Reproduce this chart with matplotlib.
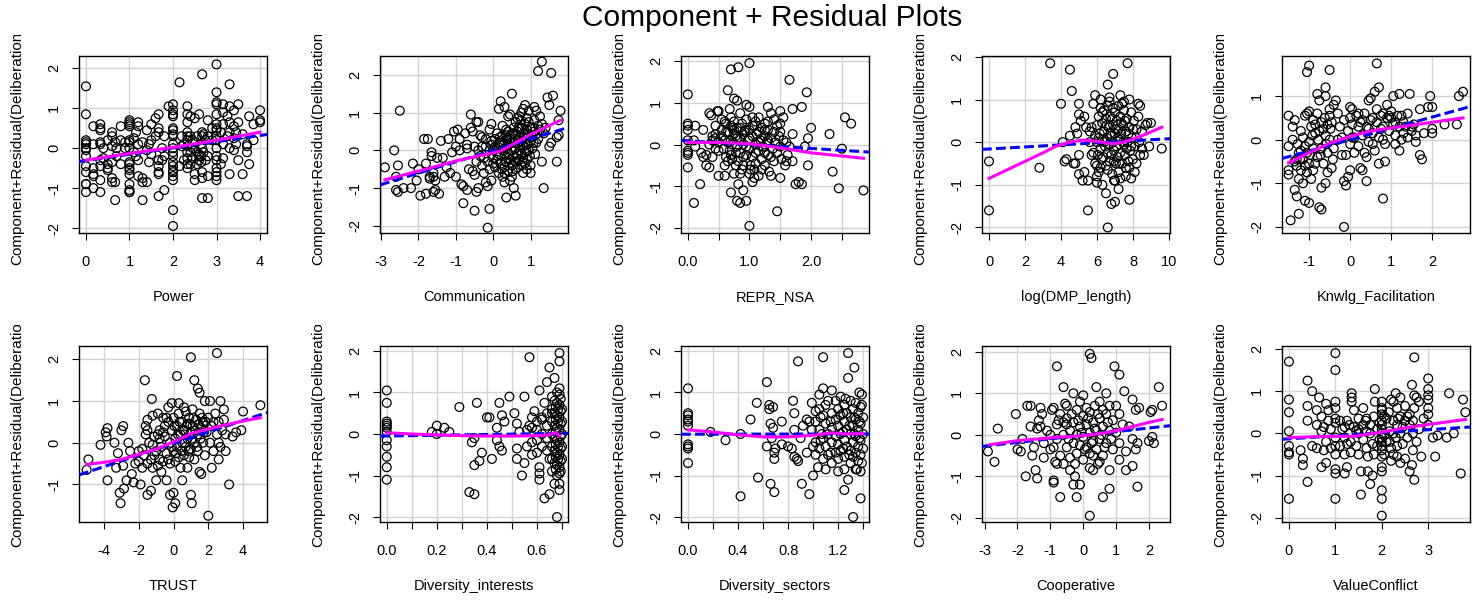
import matplotlib
matplotlib.use("Agg")
import matplotlib.pyplot as plt
from matplotlib.patches import Rectangle
import numpy as np

plt.rcParams['font.family'] = ['Liberation Sans', 'DejaVu Sans']

# ---------------- data ----------------
# columns: (x, [y, y, ...]) ; points: (x, y)

power_cols = [
    (0.0, [1.55, 0.85, 0.2, 0.15, 0.1, 0.0, -0.05, -0.2, -0.45, -0.6, -0.9, -0.9, -1.1]),
    (0.17, [0.55, 0.1, -0.5, -0.65, -0.7, -1.0]),
    (0.33, [0.6, 0.5, 0.45, 0.15, 0.1, -0.3, -0.45, -0.8, -1.1]),
    (0.4, [0.0, -0.25]),
    (0.5, [0.2, -0.4, -0.5, -0.55]),
    (0.6, [0.4, 0.3, 0.05, -0.35, -0.75, -0.85]),
    (0.67, [0.15, -0.85, -1.3]),
    (0.7, [-0.2, 0.0]),
    (0.8, [0.55, 0.2, -0.4]),
    (0.9, [0.15, 0.0]),
    (1.0, [0.7, 0.65, 0.6, 0.55, 0.2, 0.15, 0.0, -0.35, -0.4, -0.5, -0.55, -0.65, -0.9, -1.05, -1.1, -1.1]),
    (1.1, [0.25, -0.1]),
    (1.15, [0.4, -0.2]),
    (1.2, [0.65, 0.55, 0.1, -0.3, -0.7]),
    (1.3, [0.15, -0.75, -0.85, -1.3]),
    (1.4, [0.45, -0.05, -0.85]),
    (1.45, [0.1, -0.35]),
    (1.5, [0.6, 0.2, -0.15]),
    (1.6, [0.75, 0.3]),
    (1.67, [0.85, 0.5, 0.4, -0.3, -0.45, -0.6, -0.65, -1.2]),
    (1.75, [0.0, -0.3]),
    (1.8, [0.3, -0.2, -1.05]),
    (1.9, [1.05]),
    (2.0, [1.1, 0.95, 0.85, 0.8, 0.5, 0.45, 0.35, 0.3, 0.1, 0.0, -0.1, -0.2, -0.35, -0.45,
           -0.55, -0.6, -0.7, -0.8, -1.55, -1.95]),
    (2.15, [1.65, -0.45]),
    (2.2, [0.3, 0.05]),
    (2.25, [-0.3, 0.1]),
    (2.33, [1.05, 0.85, 0.65, 0.4, 0.3, 0.2, 0.05, -0.1, -0.25, -0.4, -0.5]),
    (2.4, [0.8, 0.3, -0.1, -0.4]),
    (2.45, [0.0, -0.25, 0.2]),
    (2.5, [0.75, 0.15, -0.65, -0.8]),
    (2.55, [-0.1, 0.3, -0.4]),
    (2.6, [0.85, -0.15, -0.2, -0.3]),
    (2.65, [-0.2, 0.1, -0.35]),
    (2.67, [1.85, 0.4, 0.3, 0.0, -0.6, -0.75, -1.25]),
    (2.7, [0.35, -0.1]),
    (2.75, [0.2, -0.3]),
    (2.8, [0.7, 0.3, -0.2, -0.7, -1.25]),
    (2.9, [0.5, 0.2]),
    (3.0, [2.1, 1.4, 1.15, 1.1, 0.85, 0.6, 0.5, 0.45, 0.3, 0.2, 0.0, -0.2, -0.3, -0.5, -0.6, -0.7, -0.8]),
    (3.1, [0.4, -0.4]),
    (3.15, [1.1, 0.9, 0.6, 0.1, -0.25]),
    (3.25, [0.3, 0.8]),
    (3.3, [1.6, 1.05, 0.65, 0.4, 0.0, -0.65]),
    (3.4, [0.95, 0.55, 0.25, -0.05]),
    (3.45, [0.4, 0.1]),
    (3.5, [1.1, 0.65, -0.3, -1.2]),
    (3.6, [0.35, -0.65]),
    (3.7, [0.1, 0.05, -0.1, -1.2]),
    (3.75, [0.8, -0.4]),
    (3.85, [0.6, 0.2]),
    (4.0, [0.95, 0.7, 0.65]),
]
power_pts = []

comm_cols = []
comm_pts = [
    (-2.9, -0.45), (-2.65, 0.0), (-2.5, 1.05), (-2.55, -0.4), (-2.6, -0.7), (-2.6, -1.05), (-2.55, -1.1),
    (-2.4, -1.0), (-2.2, -1.0), (-2.15, -0.35), (-2.05, -0.8), (-2.0, -0.5), (-1.95, -1.2), (-1.85, 0.3),
    (-1.8, -0.35), (-1.8, -1.15), (-1.75, 0.3), (-1.7, -0.7), (-1.7, -0.75), (-1.65, -0.05), (-1.65, -0.15),
    (-1.6, -0.6), (-1.6, -0.7), (-1.6, -1.1), (-1.55, -0.8), (-1.55, -1.05), (-1.5, -0.2), (-1.45, -1.15),
    (-1.4, 0.25), (-1.35, -0.2), (-1.3, -0.7), (-1.25, -0.45), (-1.2, 0.3), (-1.15, -0.6), (-1.1, -0.05),
    (-1.05, 0.5), (-1.0, 0.1), (-1.0, -0.7), (-0.95, 0.55), (-0.9, 0.3), (-0.9, 0.0), (-0.85, -0.9),
    (-0.8, -0.95), (-0.8, -1.4), (-0.75, 0.45), (-0.7, 0.05), (-0.7, 0.15), (-0.7, -1.05), (-0.65, -0.5),
    (-0.6, 0.95), (-0.6, 0.6), (-0.55, 0.5), (-0.55, -0.55), (-0.5, 0.1), (-0.5, -0.65), (-0.45, 0.75),
    (-0.45, -0.3), (-0.4, 0.75), (-0.4, -1.0), (-0.45, -1.1), (-0.4, 0.0), (-0.35, 0.4), (-0.35, -0.15),
    (-0.3, -0.4), (-0.3, 0.35), (-0.5, -1.6), (-0.25, -0.6), (-0.2, 0.1), (-0.2, -0.85), (-0.15, -0.95),
    (-0.15, -2.05), (-0.1, 0.55), (-0.1, -1.55), (-0.05, 0.7), (-0.05, -0.8), (-0.05, 0.25), (0.0, 0.0),
    (0.0, -0.35),
    (0.15, 1.1), (0.2, 1.3), (0.25, 0.65), (0.3, 1.15), (0.3, -0.85), (0.35, -1.25), (0.4, 0.9), (0.45, 0.95),
    (0.5, 1.5), (0.55, -1.0), (0.6, -1.2), (0.6, -0.5), (0.65, 0.85), (0.7, 0.6), (0.75, 1.0), (0.8, 1.1),
    (0.8, -0.6), (0.85, 1.2), (0.9, 0.85), (0.95, 1.05), (1.0, -0.6), (1.0, -0.4), (1.05, 0.6), (1.1, 1.15),
    (1.15, 1.05), (1.2, 2.1), (1.25, 0.9), (1.3, 2.35), (1.3, -0.3), (1.35, -1.0), (1.4, 0.6), (1.45, 1.4),
    (1.5, 1.2), (1.55, 2.05), (1.6, 1.45), (1.55, 0.2), (1.5, 0.1), (1.7, 0.35), (1.7, -0.3), (1.75, 0.4),
    (1.8, 1.05), (1.75, 0.8),
    (-0.3, 0.1), (-0.25, -0.2), (-0.2, 0.3), (-0.15, -0.3), (-0.1, 0.0), (-0.1, -0.5), (-0.05, 0.15),
    (0.0, -0.2), (0.05, 0.3), (0.05, -0.45), (0.1, 0.05), (0.1, -0.25), (0.1, 0.45), (0.15, -0.1),
    (0.15, -0.6), (0.2, 0.2), (0.2, -0.35), (0.25, 0.0), (0.25, 0.4), (0.25, -0.7), (0.3, 0.25),
    (0.3, -0.15), (0.3, -0.45), (0.35, 0.4), (0.35, 0.05), (0.35, -0.3), (0.4, 0.5), (0.4, 0.15),
    (0.4, -0.1), (0.4, -0.55), (0.45, 0.3), (0.45, -0.25), (0.45, -0.8), (0.5, 0.45), (0.5, 0.0),
    (0.5, -0.4), (0.55, 0.6), (0.55, 0.2), (0.55, -0.15), (0.6, 0.4), (0.6, 0.05), (0.6, -0.3), (0.6, 0.75),
    (0.65, 0.5), (0.65, 0.2), (0.65, -0.1), (0.65, -0.45), (0.7, 0.35), (0.7, 0.0), (0.7, -0.25), (0.7, 0.9),
    (0.75, 0.6), (0.75, 0.25), (0.75, -0.1), (0.75, -0.4), (0.8, 0.45), (0.8, 0.1), (0.8, -0.2), (0.85, 0.7),
    (0.85, 0.3), (0.85, -0.05), (0.85, -0.35), (0.9, 0.55), (0.9, 0.15), (0.9, -0.25), (0.95, 0.4),
    (0.95, 0.0), (0.95, 0.75), (1.0, 0.25), (1.0, 0.6), (1.05, 0.35), (1.05, 0.05), (1.1, 0.5), (1.1, 0.8),
    (1.15, 0.2), (1.2, 0.65), (1.2, 0.3), (1.25, 0.55), (1.3, 0.7), (1.35, 0.45),
    (0.05, 0.1), (0.12, -0.15), (0.18, 0.35), (0.22, -0.5), (0.28, 0.15), (0.32, -0.3), (0.38, 0.3),
    (0.42, -0.2), (0.48, 0.2), (0.52, -0.55), (0.58, 0.3), (0.62, -0.2), (0.68, 0.6), (0.72, 0.15),
    (0.78, -0.3), (0.82, 0.35), (0.88, 0.0), (0.92, 0.45), (0.98, -0.15), (1.02, 0.4), (1.08, 0.2),
    (1.12, -0.1), (1.18, 0.45), (0.15, 0.2), (0.35, 0.55), (0.55, 0.45), (0.75, 0.8), (0.9, -0.5),
    (0.5, -0.7), (0.3, -0.6),
]

repr_cols = [
    (0.0, [1.2, 0.5, 0.45, 0.35, 0.1, -0.15, -0.2, -0.25, -0.55]),
]
repr_pts = [
    (0.1, -1.4), (0.12, 0.45), (0.1, 0.1), (0.12, -0.05), (0.2, -0.95), (0.22, -0.2), (0.25, 0.35),
    (0.25, -0.3), (0.3, -0.25), (0.3, -0.5), (0.35, 0.75), (0.38, 0.7), (0.35, -0.55), (0.4, 0.1),
    (0.4, -0.3), (0.45, 0.45), (0.45, 0.25), (0.45, 0.15), (0.48, 0.8), (0.5, 0.8), (0.5, -0.75),
    (0.5, -0.15), (0.55, 0.6), (0.55, 0.2), (0.6, -0.75), (0.62, 0.5), (0.62, 0.3), (0.65, 1.3),
    (0.65, -0.4), (0.68, 0.85), (0.7, 1.8), (0.7, 0.1), (0.7, -1.15), (0.72, 0.4), (0.75, 1.1), (0.75, 0.25),
    (0.75, -0.7), (0.78, -0.2), (0.8, 1.05), (0.8, -1.35), (0.82, 1.85), (0.82, -0.95), (0.85, 0.75),
    (0.85, -1.4), (0.88, -0.6), (0.9, -1.1), (0.93, 0.35), (0.95, 0.95), (0.95, -1.35), (1.0, 1.95),
    (1.0, -1.95), (1.0, 0.9), (1.02, -0.5), (1.05, 0.65), (1.05, -0.9), (1.08, -0.8), (1.1, 0.55),
    (1.15, 0.3), (1.2, -0.6), (1.25, 0.5), (1.3, 0.9), (1.35, 0.75), (1.35, -0.75), (1.4, 0.6),
    (1.45, -1.6), (1.5, 0.8), (1.5, 0.3), (1.5, -0.8), (1.55, 0.65), (1.6, -0.4), (1.65, 1.55), (1.7, 0.85),
    (1.7, 0.25), (1.7, -0.4), (1.75, -0.95), (1.8, -0.9), (1.85, 0.9), (1.85, -0.95), (1.9, -0.05),
    (1.93, 1.25), (1.95, 0.15), (1.95, -0.5), (2.0, 0.4), (2.3, 0.25), (2.35, -0.65), (2.45, -1.05),
    (2.5, -0.1), (2.55, 0.65), (2.65, 0.5), (2.85, -1.1),
    (0.55, 0.35), (0.58, -0.1), (0.6, 0.1), (0.62, -0.3), (0.65, 0.3), (0.68, -0.15), (0.7, 0.45),
    (0.72, 0.0), (0.72, -0.35), (0.75, 0.55), (0.78, 0.2), (0.8, -0.05), (0.8, 0.4), (0.82, -0.4),
    (0.85, 0.15), (0.85, -0.2), (0.88, 0.5), (0.9, 0.0), (0.9, -0.5), (0.92, 0.3), (0.95, -0.25),
    (0.95, 0.6), (0.98, 0.1), (1.0, -0.1), (1.0, 0.35), (1.02, -0.6), (1.05, 0.2), (1.05, -0.3),
    (1.08, 0.45), (1.1, 0.0), (1.1, -0.45), (1.12, 0.25), (1.15, -0.15), (1.15, 0.65), (1.18, 0.1),
    (1.2, -0.35), (1.2, 0.4), (1.22, -0.05), (1.25, 0.2), (1.25, -0.5), (1.28, 0.05), (1.3, 0.35),
    (1.3, -0.25), (1.32, -0.65), (1.35, 0.15), (1.38, -0.1), (1.4, 0.3), (1.4, -0.4), (1.42, 0.05),
    (1.45, -0.2), (1.48, 0.2), (1.5, -0.05), (1.52, -0.35), (1.55, 0.1), (1.58, -0.5), (1.6, 0.05),
    (1.62, -0.25), (1.65, -0.05), (0.45, -0.1), (0.5, 0.05), (0.4, 0.2), (0.35, 0.0), (0.6, 0.55),
    (0.7, 0.65), (0.85, -0.7), (1.0, -0.7), (1.15, -0.75), (1.3, 0.55), (1.45, 0.45), (1.5, 0.5),
    (0.65, 0.05), (0.7, -0.25), (0.75, 0.35), (0.8, 0.15), (0.85, 0.4), (0.9, 0.25), (0.95, -0.05),
    (1.0, 0.15), (1.05, 0.45), (1.1, -0.2), (1.15, 0.05), (1.2, 0.15), (1.25, 0.35), (1.3, 0.1),
    (1.35, -0.3), (0.9, -0.3), (0.78, -0.5), (1.08, -0.6), (1.25, -0.2), (0.6, -0.5),
]

dmp_cols = [
    (0.0, [-0.45, -1.6]),
]
dmp_pts = [
    (2.8, -0.6), (3.4, 1.85), (4.0, 0.9), (4.1, 0.0), (4.2, -0.45), (4.3, -0.4), (4.5, 1.7), (4.6, 1.2),
    (4.5, 0.15), (4.7, -0.5), (4.8, -0.5), (4.8, 0.35), (4.9, 0.2), (5.0, 0.9), (5.0, 0.65), (5.0, -0.3),
    (5.0, -0.75), (5.1, 0.5), (5.2, -0.9), (5.3, -0.7), (5.3, 0.6), (5.4, 0.35), (5.5, -1.6), (5.5, -0.9),
    (5.6, 0.25), (5.7, -0.3), (5.8, 0.9), (5.9, 1.1), (6.0, -0.95), (6.0, -0.55), (6.1, -0.7), (6.2, 0.8),
    (6.3, -1.0), (6.5, -1.2), (6.6, -2.0), (6.6, 1.35), (6.7, 1.05), (6.8, -1.45), (6.9, 1.6), (7.0, -1.4),
    (7.2, -1.1), (7.3, 1.1), (7.5, 0.95), (7.7, 1.85), (7.8, 1.0), (7.8, -1.35), (7.9, -0.85), (8.1, -0.7),
    (8.3, 0.9), (8.4, 0.85), (8.5, -0.15), (8.6, -0.3), (8.7, 0.4), (8.8, 0.45), (8.9, -0.1), (9.0, 0.45),
    (9.6, -0.15),
    (5.6, 0.0), (5.7, 0.35), (5.8, -0.25), (5.9, 0.15), (5.9, -0.5), (6.0, 0.4), (6.0, 0.0), (6.05, -0.3),
    (6.1, 0.6), (6.15, 0.2), (6.2, -0.15), (6.2, -0.6), (6.3, 0.45), (6.3, 0.05), (6.35, -0.35), (6.4, 0.75),
    (6.4, 0.25), (6.45, -0.1), (6.5, -0.55), (6.5, 0.55), (6.55, 0.1), (6.6, -0.25), (6.6, 0.85), (6.65, 0.35),
    (6.7, -0.05), (6.7, -0.45), (6.75, 0.6), (6.8, 0.15), (6.8, -0.3), (6.85, -0.75), (6.9, 0.4), (6.9, 0.0),
    (6.95, -0.2), (7.0, 0.7), (7.0, 0.2), (7.05, -0.5), (7.1, 0.5), (7.1, -0.1), (7.15, -0.35), (7.2, 0.3),
    (7.2, -0.7), (7.25, 0.05), (7.3, 0.6), (7.3, -0.25), (7.35, 0.2), (7.4, -0.5), (7.45, 0.4), (7.5, -0.05),
    (7.5, 0.75), (7.55, -0.3), (7.6, 0.25), (7.6, -0.8), (7.65, 0.55), (7.7, 0.0), (7.75, -0.45), (7.8, 0.35),
    (7.85, -0.2), (7.9, 0.7), (7.95, 0.1), (8.0, -0.4), (8.05, 0.5), (8.1, -0.1), (8.2, 0.3), (8.2, -0.5),
    (8.3, 0.6), (8.35, 0.0), (8.4, -0.3), (8.5, 0.25), (6.0, -0.8), (6.2, 1.0), (6.9, 0.8), (7.4, 0.9),
    (7.0, -0.9), (7.6, -0.6),
    (6.1, 0.1), (6.25, -0.4), (6.4, 0.0), (6.55, 0.4), (6.6, -0.65), (6.75, 0.2), (6.85, 0.55), (6.95, -0.45),
    (7.05, 0.3), (7.15, 0.1), (7.25, -0.5), (7.35, 0.45), (7.45, 0.0), (7.55, 0.5), (7.65, -0.15),
    (7.75, 0.2), (7.9, -0.1), (8.0, 0.3), (6.3, 0.7), (6.95, -0.9), (7.3, -0.85), (7.8, -0.6), (6.7, 0.95),
    (7.2, 0.85),
]

knwlg_cols = []
knwlg_pts = [
    (-1.5, 0.55), (-1.5, -0.15), (-1.5, -0.7), (-1.5, -0.8), (-1.45, -1.85), (-1.4, 0.0), (-1.4, 0.3),
    (-1.35, 0.45), (-1.35, -1.15), (-1.3, -1.3), (-1.3, -0.45), (-1.25, -0.9), (-1.25, -1.7), (-1.2, 0.2),
    (-1.2, -0.25), (-1.15, -1.0), (-1.1, -1.4), (-1.1, 0.55), (-1.05, 1.55), (-1.05, 0.6), (-1.0, 1.7),
    (-1.0, -1.45), (-1.0, 0.65), (-0.95, -0.9), (-0.9, 0.45), (-0.85, 0.15), (-0.8, 1.05), (-0.8, 0.6),
    (-0.75, 0.9), (-0.7, -1.1), (-0.75, -1.55), (-0.7, -1.6), (-0.65, 0.25), (-0.6, 1.2), (-0.6, -1.0),
    (-0.6, 1.0), (-0.55, -0.75), (-0.5, 1.6), (-0.5, 0.55), (-0.45, -0.65), (-0.4, 0.8), (-0.35, 0.9),
    (-0.3, 0.0), (-0.2, -0.35), (-0.15, -0.95), (-0.15, -2.0), (-0.1, -1.05), (-0.05, -0.85), (0.0, 0.75),
    (0.0, 0.5), (0.0, -0.7), (0.05, 0.7), (0.1, -0.3), (0.2, 0.3), (0.25, -0.65), (0.3, -0.7), (0.35, 0.6),
    (0.4, -0.4), (0.4, -0.95), (0.45, 0.9), (0.5, 0.95), (0.55, 0.5), (0.6, 1.1), (0.65, 1.75), (0.7, 1.2),
    (0.7, -0.55), (0.8, 0.0), (0.8, 0.6), (0.85, -0.5), (0.8, -1.35), (0.9, 0.8), (1.0, 0.5), (1.05, 1.0),
    (1.1, -0.1), (1.2, 1.05), (1.2, -0.25), (1.3, 0.4), (1.4, 0.6), (1.45, 1.05), (1.5, 0.3), (1.6, -0.05),
    (1.7, 0.7), (1.7, -0.35), (1.75, -0.45), (1.8, 0.15), (1.9, 0.75), (1.95, 1.0), (2.0, 0.75),
    (2.0, 0.15), (2.0, 0.25), (2.3, 0.35), (2.6, 0.35), (2.65, 1.0), (2.75, 1.1),
    (-1.3, -0.6), (-1.25, -0.3), (-1.2, -0.7), (-1.15, -0.45), (-1.1, -0.15), (-1.1, -0.6), (-1.05, -0.3),
    (-1.0, -0.05), (-1.0, -0.55), (-0.95, 0.3), (-0.9, -0.2), (-0.9, -0.7), (-0.85, 0.35), (-0.8, -0.4),
    (-0.75, 0.2), (-0.7, -0.2), (-0.7, 0.4), (-0.65, -0.55), (-0.6, 0.1), (-0.55, 0.35), (-0.55, -0.3),
    (-0.5, 0.7), (-0.5, 0.0), (-0.45, 0.4), (-0.4, -0.2), (-0.3, 0.6), (-0.25, 0.3), (-0.2, 0.05),
    (-0.15, 0.45), (-0.1, -0.35), (-0.05, 0.2), (0.0, -0.1), (0.05, 0.35), (0.1, 0.05), (0.15, 0.55),
    (0.2, -0.15), (0.25, 0.4), (0.3, 0.1), (0.35, -0.3), (0.4, 0.3), (0.45, -0.05), (0.5, 0.45), (0.55, 0.15),
    (0.6, -0.25), (0.65, 0.4), (0.7, 0.05), (0.75, 0.55), (0.8, 0.3), (0.85, -0.1), (0.9, 0.5), (0.95, 0.2),
    (1.0, 0.65), (1.05, 0.35), (1.1, 0.1), (1.15, 0.55), (1.2, 0.3), (1.25, 0.0), (1.3, 0.15), (1.35, 0.3),
    (1.4, 0.05), (1.5, 0.2), (1.55, 0.35), (1.6, 0.1),
    (-1.35, -0.5), (-1.28, -0.1), (-1.22, -0.45), (-1.15, 0.05), (-1.05, -0.75), (-0.98, -0.35),
    (-0.92, 0.1), (-0.85, -0.55), (-0.78, 0.0), (-0.72, -0.35), (-0.62, 0.5), (-0.58, -0.1), (-0.48, 0.25),
    (-0.42, -0.45), (0.3, 0.45), (0.45, 0.25), (0.55, -0.1), (0.65, 0.7), (0.75, 0.25), (0.95, 0.55),
    (1.1, 0.4), (1.25, 0.55), (0.2, 0.6), (0.05, 0.05),
]

trust_cols = []
trust_pts = [
    (-4.9, -0.4), (-5.0, -0.65), (-4.2, -0.05), (-3.9, 0.25), (-3.8, 0.35), (-3.85, 0.15), (-3.8, -0.9),
    (-3.4, 0.0), (-3.3, -0.6), (-3.2, -0.25), (-3.1, -1.2), (-3.05, -1.45), (-3.0, 0.3), (-2.9, 0.4),
    (-2.9, -0.55), (-2.85, -1.1), (-2.7, -0.9), (-2.6, 0.0), (-2.5, -0.2), (-2.4, -0.75), (-2.3, -0.95),
    (-2.2, -0.5), (-2.0, -0.2), (-1.9, -1.0), (-1.8, -0.15), (-1.65, 1.5), (-1.6, 0.4), (-1.5, 0.55),
    (-1.5, -1.25), (-1.3, -1.15), (-1.25, 1.05), (-1.2, 0.65), (-1.1, -0.3), (-1.0, -0.9), (-0.9, 0.7),
    (-0.8, 0.1), (-0.7, -0.7), (-0.6, 0.6), (-0.5, 0.4), (-0.4, -0.9), (-0.3, 0.85), (-0.2, -1.25),
    (-0.1, 0.95), (-0.05, -1.55), (0.0, -1.2), (0.1, -1.45), (0.2, 1.6), (0.3, 0.95), (0.5, -0.9),
    (0.6, 0.85), (0.8, -0.6), (1.0, 2.05), (1.0, -1.25), (1.05, -1.45), (1.2, 1.5), (1.4, 1.3), (1.5, 1.2),
    (1.5, -0.7), (1.6, -0.75), (1.8, 1.0), (2.0, -1.75), (2.1, 1.0), (2.2, -0.6), (2.5, 2.15), (2.6, -0.4),
    (2.7, 1.0), (2.9, 0.8), (3.0, 0.2), (3.2, -1.0), (3.4, 0.15), (3.6, 0.25), (3.9, 0.3), (4.0, 0.75),
    (5.0, 0.9),
    (-2.0, -0.45), (-1.8, -0.6), (-1.7, -0.3), (-1.6, 0.2), (-1.5, -0.5), (-1.4, 0.0), (-1.3, -0.4),
    (-1.2, -0.6), (-1.1, 0.15), (-1.0, -0.2), (-0.9, -0.55), (-0.8, 0.3), (-0.7, -0.1), (-0.6, -0.45),
    (-0.5, 0.15), (-0.4, -0.25), (-0.3, 0.5), (-0.2, 0.0), (-0.2, -0.5), (-0.1, 0.3), (0.0, -0.2),
    (0.0, 0.6), (0.1, 0.1), (0.1, -0.45), (0.2, 0.4), (0.2, -0.1), (0.3, -0.35), (0.3, 0.7), (0.4, 0.2),
    (0.4, -0.6), (0.5, 0.5), (0.5, 0.0), (0.6, -0.3), (0.6, 0.3), (0.7, 0.75), (0.7, -0.1), (0.8, 0.45),
    (0.8, 0.1), (0.9, -0.35), (0.9, 0.6), (1.0, 0.25), (1.0, -0.15), (1.1, 0.8), (1.1, 0.4), (1.2, 0.0),
    (1.2, -0.4), (1.3, 0.55), (1.4, 0.2), (1.4, -0.2), (1.5, 0.7), (1.6, 0.35), (1.7, 0.0), (1.7, 0.5),
    (1.8, -0.3), (1.9, 0.25), (2.0, 0.6), (2.1, 0.0), (2.2, 0.4), (2.3, -0.2), (2.4, 0.7), (2.5, 0.2),
    (2.6, 0.5), (2.7, -0.1), (2.8, 0.3), (2.9, 0.55), (3.0, -0.2),
    (-0.9, 0.2), (-0.6, 0.25), (-0.4, 0.6), (-0.3, -0.4), (-0.1, -0.1), (0.05, 0.4), (0.15, -0.25),
    (0.25, 0.2), (0.35, 0.5), (0.45, -0.2), (0.55, 0.3), (0.65, 0.0), (0.75, 0.4), (0.85, -0.2), (0.95, 0.45),
    (1.05, 0.1), (1.15, 0.6), (1.25, 0.3), (1.35, -0.1), (1.45, 0.45), (1.55, 0.1), (1.65, 0.6), (1.75, 0.25),
    (1.85, 0.5), (-1.5, 0.3), (-1.2, -0.05), (-0.8, -0.4), (2.3, 0.5), (2.6, 0.0),
]

divint_cols = [
    (0.0, [1.05, 0.75, 0.3, 0.25, 0.2, 0.15, 0.05, -0.15, -0.3, -0.55, -0.8, -1.1]),
    (0.58, [0.15, -0.2]),
    (0.6, [0.1, -0.45]),
    (0.62, [0.35, 0.0, -0.3]),
    (0.64, [0.5, 0.2, -0.1, -0.4]),
    (0.66, [0.9, 0.6, 0.3, 0.0, -0.3, -0.6, -0.9]),
    (0.67, [0.8, 0.5, 0.2, -0.1, -0.4, -0.7]),
    (0.675, [0.65, 0.35, 0.05, -0.25, -0.55, -0.85]),
    (0.68, [1.0, 0.75, 0.45, 0.15, -0.15, -0.45, -0.75, -1.0]),
    (0.685, [0.6, 0.3, -0.3, -0.6]),
    (0.69, [0.95, 0.7, 0.4, 0.1, -0.2, -0.5, -0.8, -0.95]),
    (0.695, [0.85, 0.55, 0.25, -0.05, -0.35, -0.65, -0.9]),
    (0.7, [0.6, 0.3, 0.0, -0.3, -0.6]),
]
divint_pts = [
    (0.18, 0.05), (0.2, 0.2), (0.2, 0.0), (0.23, 0.15), (0.25, 0.05), (0.29, 0.65), (0.33, -1.4),
    (0.35, -1.45), (0.34, -0.2), (0.35, -0.1), (0.35, -0.75), (0.36, 0.75), (0.37, -0.65), (0.38, -0.45),
    (0.4, 0.4), (0.41, 0.4), (0.42, -0.6), (0.44, 0.15), (0.44, -0.15), (0.45, -0.3), (0.45, 0.75),
    (0.46, 0.45), (0.46, -0.4), (0.47, 0.3), (0.49, 0.9), (0.51, 0.5), (0.52, 0.25), (0.52, -0.35),
    (0.52, -0.6), (0.53, 0.05), (0.54, -1.0), (0.55, 0.9), (0.55, -0.7), (0.56, 0.1), (0.56, -0.3),
    (0.57, 0.2), (0.57, 1.85), (0.58, 0.4), (0.58, -0.5), (0.59, 0.55), (0.6, 0.3), (0.6, -0.15),
    (0.61, 1.05), (0.61, -0.8), (0.61, -0.95), (0.61, -1.1), (0.62, 0.4), (0.63, -1.55), (0.63, 0.75),
    (0.64, 1.25), (0.65, -0.6), (0.65, 1.6), (0.65, -1.45), (0.66, 0.5), (0.67, 1.35), (0.67, -1.2),
    (0.68, -2.0), (0.69, 1.95), (0.69, 1.75), (0.69, -1.2), (0.69, -1.35), (0.69, 1.1),
]

divsec_cols = [
    (0.0, [1.1, 0.5, 0.45, 0.35, 0.3, 0.2, -0.25, -0.3, -0.35, -0.7]),
    (1.02, [0.3, -0.2, -0.5]),
    (1.05, [0.6, 0.1, -0.35]),
    (1.06, [0.4, -0.15]),
    (1.08, [0.45, -0.1, -0.6]),
    (1.1, [0.7, 0.25, -0.3]),
    (1.12, [0.0, -0.5]),
    (1.14, [0.3, -0.45]),
    (1.15, [0.5, 0.15, -0.2, -0.7]),
    (1.18, [0.8, 0.35, -0.05, -0.45]),
    (1.2, [0.6, 0.2, -0.25, -0.6]),
    (1.22, [0.45, 0.0, -0.4]),
    (1.24, [0.5, 0.05, -0.35]),
    (1.25, [0.7, 0.3, -0.15, -0.55, -0.85]),
    (1.27, [0.5, 0.1, -0.3]),
    (1.29, [0.2, -0.5]),
    (1.3, [0.8, 0.4, 0.0, -0.4, -0.7]),
    (1.32, [0.6, 0.2, -0.2, -0.55]),
    (1.33, [0.4, 0.0]),
    (1.34, [0.75, 0.35, -0.05, -0.45, -0.85]),
    (1.36, [0.5, 0.1, -0.3, -0.65]),
    (1.37, [0.3, -0.1]),
    (1.38, [0.65, 0.25, -0.15, -0.5, -0.9]),
    (1.39, [0.7, -0.7]),
    (1.4, [0.4, -0.35]),
]
divsec_pts = [
    (0.18, 0.05), (0.3, -0.15), (0.42, 0.0), (0.42, -1.5), (0.5, 0.35), (0.55, 0.75), (0.56, -1.05),
    (0.63, 1.25), (0.63, -0.3), (0.65, 0.7), (0.65, 0.6), (0.66, 0.25), (0.66, -1.2), (0.67, -0.1),
    (0.68, 0.15), (0.68, 0.65), (0.69, -0.45), (0.69, -0.6), (0.69, -1.4), (0.7, -0.35), (0.75, 0.3),
    (0.75, -0.25), (0.8, -0.3), (0.83, -0.35), (0.84, 0.8), (0.85, 0.5), (0.85, 0.1), (0.85, -0.55),
    (0.87, -0.6), (0.88, 1.75), (0.88, -0.65), (0.9, -0.1), (0.91, -1.2), (0.92, 0.2), (0.95, 0.35),
    (0.95, -0.45), (0.97, 0.3), (0.97, -1.45), (0.99, 0.1), (0.99, 0.75), (1.0, -0.3), (1.0, -1.0),
    (1.02, 0.55), (1.04, -0.8), (1.05, 0.95), (1.07, 0.0), (1.08, 1.85), (1.08, 1.1), (1.1, -0.85),
    (1.12, 0.8), (1.15, 1.05), (1.2, -0.9), (1.22, 0.9), (1.25, -1.35), (1.26, 0.85), (1.28, 1.95),
    (1.28, 1.35), (1.28, -1.1), (1.32, -2.0), (1.33, 1.6), (1.35, -0.85), (1.37, 1.0), (1.38, -1.55),
    (1.39, 0.95), (1.4, 0.0),
]

coop_cols = []
coop_pts = [
    (-2.9, -0.4), (-2.7, -0.65), (-2.6, 0.15), (-2.05, 0.5), (-2.0, -0.35), (-1.9, -0.4), (-1.85, -0.1),
    (-1.75, -1.0), (-1.7, 0.7), (-1.6, 0.7), (-1.6, 0.2), (-1.55, -0.5), (-1.5, -0.3), (-1.45, -0.85),
    (-1.4, -1.05), (-1.4, 0.15), (-1.35, 0.35), (-1.3, 0.65), (-1.25, 0.5), (-1.2, -0.55), (-1.1, 0.1),
    (-1.0, -0.35), (-0.95, 0.6), (-0.9, 0.65), (-0.9, -1.1), (-0.9, -1.15), (-0.85, -0.65), (-0.8, 1.65),
    (-0.8, -0.7), (-0.75, 0.35), (-0.7, -1.5), (-0.6, 1.15), (-0.55, 0.75), (-0.5, 0.25), (-0.4, -0.85),
    (-0.3, 1.0), (-0.3, -1.2), (-0.25, -1.0), (-0.2, -1.5), (-0.1, -1.2), (0.0, 0.95), (0.2, 1.95),
    (0.25, 1.85), (0.2, -1.95), (0.3, -0.85), (0.4, 1.15), (0.5, -0.65), (0.6, -1.5), (0.7, 1.0),
    (0.8, -1.3), (0.8, -0.85), (0.95, 1.65), (1.0, 0.7), (1.1, 1.45), (1.1, -0.6), (1.25, 1.05),
    (1.3, -0.85), (1.5, 0.85), (1.5, -0.75), (1.6, 0.6), (1.65, -1.25), (1.7, 0.65), (1.6, -0.35),
    (1.65, -0.2), (2.0, -0.15), (2.1, 0.6), (2.05, 0.55), (2.15, -0.2), (2.1, -0.05), (2.3, 1.15),
    (2.4, 0.7),
    (-1.0, 0.0), (-0.9, -0.3), (-0.8, 0.25), (-0.7, -0.5), (-0.7, 0.5), (-0.6, 0.0), (-0.5, -0.3),
    (-0.5, 0.4), (-0.4, 0.1), (-0.4, -0.55), (-0.3, 0.3), (-0.3, -0.2), (-0.2, 0.6), (-0.2, 0.0),
    (-0.2, -0.45), (-0.1, 0.2), (-0.1, -0.25), (0.0, 0.45), (0.0, -0.05), (0.0, -0.6), (0.1, 0.25),
    (0.1, -0.3), (0.2, 0.55), (0.2, 0.05), (0.2, -0.45), (0.3, 0.3), (0.3, -0.15), (0.35, 0.7), (0.4, 0.1),
    (0.4, -0.35), (0.5, 0.4), (0.5, -0.1), (0.6, 0.2), (0.6, -0.5), (0.7, 0.5), (0.7, -0.2), (0.8, 0.1),
    (0.8, 0.7), (0.9, -0.35), (0.9, 0.35), (1.0, 0.05), (1.1, 0.5), (1.1, -0.2), (1.2, 0.25), (1.3, -0.4),
    (1.4, 0.2), (1.5, -0.1), (-1.2, -0.2), (-1.3, 0.2), (-0.6, -0.7), (0.5, 0.8), (0.2, -0.8), (-0.1, 0.8),
    (0.45, -0.7),
    (-0.8, -0.1), (-0.6, 0.3), (-0.45, -0.1), (-0.35, 0.5), (-0.15, 0.35), (-0.05, 0.05), (0.05, -0.35),
    (0.15, 0.4), (0.25, -0.2), (0.35, 0.15), (0.45, 0.5), (0.55, 0.0), (0.65, -0.3), (0.75, 0.3),
    (0.85, -0.1), (0.3, -0.5), (-0.25, -0.7), (0.1, 0.65), (0.6, 0.6), (-0.5, 0.7),
]

value_cols = [
    (0.0, [1.7, 0.8, 0.5, 0.05, -0.3, -0.45, -0.5, -1.55]),
    (1.0, [1.9, 1.5, 0.75, 0.6, 0.35, 0.25, -0.1, -0.3, -0.5, -0.85, -0.95, -1.55]),
    (2.0, [0.75, 0.6, 0.55, 0.45, 0.3, 0.2, 0.1, 0.0, -0.1, -0.2, -0.3, -0.4, -0.55, -0.8, -0.9,
           -1.35, -1.55, -1.95]),
    (3.0, [1.3, 1.05, 0.9, 0.8, 0.6, 0.45, 0.2]),
]
value_pts = [
    (0.25, -0.4), (0.3, -0.6), (0.3, -0.75), (0.4, 1.25), (0.4, 0.65), (0.4, 0.3), (0.4, -1.15),
    (0.5, 1.0), (0.5, -0.3), (0.6, 0.55), (0.6, -0.35), (0.65, 0.85), (0.7, 0.4), (0.7, -0.8), (0.75, 0.15),
    (0.8, -0.7), (0.8, 0.7), (0.85, 0.55), (0.9, -0.35), (1.1, 0.3), (1.2, -0.1), (1.2, -0.5), (1.25, 0.3),
    (1.2, -0.95), (1.25, -0.8), (1.3, 0.2), (1.35, 0.95), (1.35, 0.85), (1.35, 0.75), (1.4, 0.55),
    (1.5, 0.1), (1.55, -0.9), (1.55, -1.45), (1.6, 0.6), (1.65, 0.3), (1.7, -0.9), (1.75, -1.2),
    (1.8, -1.0), (1.85, 1.05), (1.85, 0.75), (2.1, 0.35), (2.2, 0.8), (2.2, -0.65), (2.25, 0.75),
    (2.3, 0.95), (2.4, 0.85), (2.4, -0.7), (2.5, -0.6), (2.6, 0.2), (2.6, -0.9), (2.65, 1.15), (2.7, 1.8),
    (2.7, 0.9), (2.65, -0.75), (2.7, -1.1), (2.75, 0.85), (2.8, 0.75), (2.85, -0.55), (2.9, 0.35),
    (3.1, -0.1), (3.15, -0.55), (3.2, -0.05), (3.4, -0.1), (3.45, 0.95), (3.55, 0.0), (3.7, -0.95),
    (3.75, 0.8), (3.8, 0.5),
    (1.33, -0.2), (1.33, -0.45), (1.4, 0.15), (1.45, -0.3), (1.5, 0.35), (1.5, -0.5), (1.6, -0.15),
    (1.6, 0.2), (1.67, -0.35), (1.67, 0.35), (1.67, 0.05), (1.7, -0.55), (1.75, 0.2), (1.8, -0.25),
    (1.83, 0.4), (1.83, -0.5), (1.9, 0.1), (1.9, -0.3), (2.1, -0.2), (2.15, 0.5), (2.17, 0.05),
    (2.2, -0.35), (2.25, 0.3), (2.3, -0.1), (2.33, 0.6), (2.33, 0.2), (2.33, -0.3), (2.33, -0.55),
    (2.4, 0.4), (2.4, 0.0), (2.45, -0.25), (2.5, 0.3), (2.5, 0.65), (2.55, -0.1), (2.6, 0.45), (2.67, 0.0),
    (2.67, -0.4), (2.67, 0.3), (2.7, 0.6), (2.75, -0.2), (2.8, 0.1), (1.2, 0.15), (1.1, -0.3), (0.8, -0.2),
    (0.9, 0.1), (1.5, 0.0), (0.7, 0.05), (0.75, -0.4), (0.6, 0.2), (0.85, 0.3),
    (1.95, 0.25), (1.95, -0.15), (2.05, 0.4), (2.05, -0.05), (2.05, -0.5), (2.17, -0.2), (2.25, 0.0),
    (2.35, 0.35), (2.45, 0.15), (2.55, 0.4), (2.25, -0.5), (1.75, 0.0), (1.45, 0.05), (1.25, -0.25),
    (1.15, 0.1),
]

# linear fit (intercept, slope) and smoother knots
fits = {
    'Power': (-0.31, 0.157),
    'Communication': (0.0, 0.302),
    'REPR_NSA': (0.09, -0.092),
    'log(DMP_length)': (-0.16, 0.024),
    'Knwlg_Facilitation': (0.0, 0.26),
    'TRUST': (-0.02, 0.138),
    'Diversity_interests': (-0.048, 0.09),
    'Diversity_sectors': (-0.005, 0.004),
    'Cooperative': (-0.01, 0.087),
    'ValueConflict': (-0.13, 0.072),
}
smooths = {
    'Power': [(0, -0.3), (1, -0.13), (2, 0.02), (3, 0.2), (4, 0.4)],
    'Communication': [(-2.9, -0.78), (-2, -0.55), (-1, -0.28), (-0.3, -0.13), (0.2, -0.02), (0.5, 0.15),
                      (1, 0.42), (1.8, 0.8)],
    'REPR_NSA': [(0, 0.05), (0.5, 0.05), (1.0, 0.02), (1.5, -0.08), (2.0, -0.2), (2.85, -0.33)],
    'log(DMP_length)': [(0, -0.85), (1, -0.65), (2, -0.45), (3, -0.25), (3.7, -0.1), (4.5, 0.0), (5.2, 0.05),
                        (6, 0.02), (6.9, -0.04), (7.5, 0.0), (8.5, 0.15), (9.6, 0.35)],
    'Knwlg_Facilitation': [(-1.5, -0.53), (-1, -0.3), (-0.5, -0.08), (0, 0.08), (0.5, 0.2), (1, 0.27),
                           (1.5, 0.33), (2, 0.4), (2.75, 0.5)],
    'TRUST': [(-5, -0.52), (-4, -0.47), (-3, -0.4), (-2, -0.28), (-1, -0.15), (0, 0.02), (0.5, 0.12),
              (1, 0.22), (2, 0.33), (3, 0.43), (4, 0.52), (5, 0.6)],
    'Diversity_interests': [(0, 0.03), (0.1, 0.0), (0.2, -0.02), (0.3, -0.04), (0.4, -0.05), (0.5, -0.05),
                            (0.6, -0.04), (0.65, -0.02), (0.675, 0.04), (0.69, -0.05)],
    'Diversity_sectors': [(0, 0.1), (0.2, 0.05), (0.4, -0.02), (0.6, -0.07), (0.8, -0.07), (1.0, -0.03),
                          (1.15, 0.03), (1.25, 0.0), (1.4, 0.01)],
    'Cooperative': [(-2.85, -0.24), (-2, -0.14), (-1, -0.07), (0, -0.02), (0.5, 0.03), (1, 0.1), (1.5, 0.2),
                    (2, 0.3), (2.4, 0.37)],
    'ValueConflict': [(0, -0.1), (0.5, -0.08), (1, -0.07), (1.4, -0.07), (1.7, -0.02), (2, 0.03),
                      (2.5, 0.13), (3, 0.21), (3.8, 0.33)],
}

# panel: name, cols, pts, xlim, ylim, xticks, xticklabels, yticks
panels = [
    ('Power', power_cols, power_pts, (-0.16, 4.16), (-2.125, 2.31),
     [0, 1, 2, 3, 4], ['0', '1', '2', '3', '4'], [-2, -1, 0, 1, 2]),
    ('Communication', comm_cols, comm_pts, (-3.03, 2.0), (-2.19, 2.5),
     [-3, -2, -1, 0, 1], ['-3', '-2', '-1', '0', '1'], [-2, -1, 0, 1, 2]),
    ('REPR_NSA', repr_cols, repr_pts, (-0.11, 2.94), (-2.12, 2.12),
     [0, 0.5, 1, 1.5, 2, 2.5], ['0.0', '', '1.0', '', '2.0', ''], [-2, -1, 0, 1, 2]),
    ('log(DMP_length)', dmp_cols, dmp_pts, (-0.39, 10.06), (-2.13, 2.02),
     [0, 2, 4, 6, 8, 10], ['0', '2', '4', '6', '8', '10'], [-2, -1, 0, 1, 2]),
    ('Knwlg_Facilitation', knwlg_cols, knwlg_pts, (-1.66, 2.92), (-2.14, 1.92),
     [-1, 0, 1, 2], ['-1', '0', '1', '2'], [-2, -1, 0, 1]),
    ('TRUST', trust_cols, trust_pts, (-5.44, 5.38), (-1.9, 2.32),
     [-4, -2, 0, 2, 4], ['-4', '-2', '0', '2', '4'], [-1, 0, 1, 2]),
    ('Diversity_interests', divint_cols, divint_pts, (-0.027, 0.724), (-2.12, 2.12),
     [0, 0.1, 0.2, 0.3, 0.4, 0.5, 0.6, 0.7], ['0.0', '', '0.2', '', '0.4', '', '0.6', ''], [-2, -1, 0, 1, 2]),
    ('Diversity_sectors', divsec_cols, divsec_pts, (-0.056, 1.447), (-2.12, 2.12),
     [0, 0.2, 0.4, 0.6, 0.8, 1.0, 1.2, 1.4], ['0.0', '', '0.4', '', '0.8', '', '1.2', ''], [-2, -1, 0, 1, 2]),
    ('Cooperative', coop_cols, coop_pts, (-3.08, 2.64), (-2.1, 2.14),
     [-3, -2, -1, 0, 1, 2], ['-3', '-2', '-1', '0', '1', '2'], [-2, -1, 0, 1, 2]),
    ('ValueConflict', value_cols, value_pts, (-0.15, 3.9), (-2.1, 2.07),
     [0, 1, 2, 3], ['0', '1', '2', '3'], [-2, -1, 0, 1, 2]),
]

ylabel = 'Component+Residual(Deliberation)'
title = 'Component + Residual Plots'

# ---------------- layout (pixels of a 1482x600 canvas) ----------------
W, H = 1482, 600
fig = plt.figure(figsize=(W / 100, H / 100), dpi=100)
lefts = [79, 380, 681, 982, 1282]
rows = [(56, 233), (346, 522)]
label_mid = [145.5, 428]      # centre of the y label
label_cut = [35, 325]         # the label is cut off above this line
pw = 188
fs = 10.5

for i, (name, cols, pts, xl, yl, xt, xtl, yt) in enumerate(panels):
    r, c = divmod(i, 5)
    top, bot = rows[r]
    left = lefts[c]
    ax = fig.add_axes([left / W, 1 - bot / H, pw / W, (bot - top) / H])

    xs = [x for x, ys in cols for _ in ys] + [p[0] for p in pts]
    ys = [y for _, yy in cols for y in yy] + [p[1] for p in pts]

    ax.set_xlim(xl)
    ax.set_ylim(yl)
    ax.set_xticks(xt)
    ax.set_xticklabels(xtl)
    ax.set_yticks(yt)
    ax.set_yticklabels([str(v) for v in yt])
    ax.grid(True, color='#d3d3d3', linewidth=1.0)
    ax.set_axisbelow(True)

    ax.scatter(xs, ys, s=40, facecolors='none', edgecolors='black', linewidths=0.9, zorder=3)

    a, b = fits[name]
    gx = np.array(xl)
    ax.plot(gx, a + b * gx, color='#0000FF', lw=2.2, dashes=(3.2, 1.4), zorder=4)
    sx, sy = zip(*smooths[name])
    ax.plot(sx, sy, color='#FF00FF', lw=2.2, zorder=5)

    for sp in ax.spines.values():
        sp.set_linewidth(1.0)
    ax.tick_params(direction='out', length=5, width=0.8, labelsize=fs)
    ax.tick_params(axis='x', pad=11)
    ax.tick_params(axis='y', labelrotation=90, pad=8)
    for lab in ax.get_yticklabels():
        lab.set_va('center')

    # x label
    fig.text((left + pw / 2) / W, 1 - (bot + 64) / H, name, ha='center', va='center', fontsize=fs)
    # y label; its end runs past the panel region and is cut off there
    fig.text((left - 62) / W, 1 - label_mid[r] / H, ylabel, rotation=90,
             ha='center', va='center', fontsize=11, zorder=2)
    fig.add_artist(Rectangle(((left - 80) / W, 1 - label_cut[r] / H), 36 / W, 30 / H,
                             transform=fig.transFigure, facecolor='white', edgecolor='none', zorder=10))

fig.text(772 / W, 1 - 18 / H, title, ha='center', va='center', fontsize=21.5, zorder=11)

fig.savefig('out.png', dpi=100)
